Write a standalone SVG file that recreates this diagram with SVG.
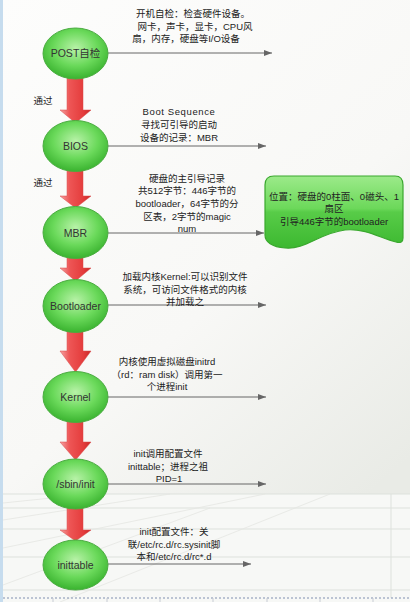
<svg xmlns="http://www.w3.org/2000/svg" width="410" height="602" viewBox="0 0 410 602">
<defs>
<linearGradient id="bg" x1="0" y1="0" x2="0.6" y2="1">
<stop offset="0" stop-color="#fdfdfc"/>
<stop offset="0.6" stop-color="#f8f8f6"/>
<stop offset="1" stop-color="#e9ebe6"/>
</linearGradient>
<radialGradient id="ell" cx="0.5" cy="0.4" r="0.62">
<stop offset="0" stop-color="#b8f2a8"/>
<stop offset="0.55" stop-color="#6ad95a"/>
<stop offset="1" stop-color="#36b02c"/>
</radialGradient>
<linearGradient id="red" x1="0" y1="0" x2="1" y2="0">
<stop offset="0" stop-color="#f4a4a4"/>
<stop offset="0.3" stop-color="#ee5656"/>
<stop offset="0.75" stop-color="#e43c3c"/>
<stop offset="1" stop-color="#c82828"/>
</linearGradient>
<linearGradient id="doc" x1="0" y1="0" x2="0" y2="1">
<stop offset="0" stop-color="#9cea8a"/>
<stop offset="0.45" stop-color="#6cd85a"/>
<stop offset="0.5" stop-color="#58cc48"/>
<stop offset="1" stop-color="#3cb830"/>
</linearGradient>
<marker id="ah" viewBox="0 0 8 6" refX="8" refY="3" markerWidth="8" markerHeight="6" markerUnits="userSpaceOnUse" orient="auto">
<path d="M0,0 L8,3 L0,6 Z" fill="#666"/>
</marker>
<style>
.t{font-family:"Liberation Sans","Noto Sans CJK SC",sans-serif;font-size:9.5px;fill:#222;text-anchor:middle}
.n{font-family:"Liberation Sans","Noto Sans CJK SC",sans-serif;font-size:10.5px;fill:#333;text-anchor:middle}
.e{fill:url(#ell);stroke:#4aac40;stroke-width:1}
.c{stroke:#666;stroke-width:1;fill:none;marker-end:url(#ah)}
.r{fill:url(#red);stroke:#d84848;stroke-width:0.5}
.g{stroke:#dde1dc;stroke-width:1;fill:none}
.d{stroke:#e4e6e2;stroke-width:0.8;fill:none}
</style>
</defs>

<!-- background -->
<rect x="0" y="0" width="410" height="602" fill="url(#bg)"/>
<rect x="0" y="494" width="410" height="108" fill="#f7f8f6"/>
<g id="grid">
<path class="g" d="M3,494 H410 M3,508 H410 M3,529 H410 M3,557 H410 M3,590 H410 M391,494 V598"/>
<path class="d" d="M3,503 L90,494 M3,520 L170,494 M3,548 L265,494 M60,602 L330,494 M3,585 L210,508"/>
<path d="M3,598 H410" stroke="#8090b0" stroke-width="1" stroke-dasharray="2,2"/>
<path d="M53,598 V602 M107,598 V602 M160,598 V602 M213,598 V602 M267,598 V602 M320,598 V602 M373,598 V602" stroke="#c8ccd4" stroke-width="1"/>
</g>
<rect x="0" y="0" width="3" height="602" fill="#c6dcee"/>

<!-- red flow arrows -->
<g id="flow">
<path class="r" d="M67,76 H83 V110 H91 L75.5,123 L60,110 H67 Z"/>
<path class="r" d="M67,169 H83 V196 H91 L75.5,208 L60,196 H67 Z"/>
<path class="r" d="M67,256 H83 V268 H91 L75.5,281 L60,268 H67 Z"/>
<path class="r" d="M67,331 H83 V351 H91 L75.5,372 L60,351 H67 Z"/>
<path class="r" d="M67,420 H83 V442 H91 L75.5,460 L60,442 H67 Z"/>
<path class="r" d="M67,506 H83 V530 H91 L75.5,541 L60,530 H67 Z"/>
</g>

<!-- connectors -->
<g id="connectors">
<line class="c" x1="108" y1="53" x2="272" y2="53"/>
<line class="c" x1="108" y1="146" x2="266" y2="146"/>
<line class="c" x1="108" y1="233" x2="264" y2="233"/>
<line class="c" x1="108" y1="305" x2="266" y2="305"/>
<line class="c" x1="108" y1="397" x2="266" y2="397"/>
<line class="c" x1="108" y1="484" x2="266" y2="484"/>
<line class="c" x1="108" y1="564" x2="251" y2="564"/>
</g>

<!-- labels -->
<g id="labels">
<text class="t" x="43" y="104">通过</text>
<text class="t" x="43" y="186">通过</text>
<text class="t" x="193" y="17">开机自检：检查硬件设备。</text>
<text class="t" x="195" y="30">网卡，声卡，显卡，CPU风</text>
<text class="t" x="186" y="42">扇，内存，硬盘等I/O设备</text>
<text class="t" x="179" y="115" letter-spacing="0.6">Boot  Sequence</text>
<text class="t" x="179" y="128">寻找可引导的启动</text>
<text class="t" x="179" y="141">设备的记录：MBR</text>
<text class="t" x="187" y="182">硬盘的主引导记录</text>
<text class="t" x="187" y="194">共512字节：446字节的</text>
<text class="t" x="187" y="207">bootloader，64字节的分</text>
<text class="t" x="187" y="220">区表，2字节的magic</text>
<text class="t" x="187" y="232">num</text>
<text class="t" x="185" y="280">加载内核Kernel:可以识别文件</text>
<text class="t" x="185" y="293">系统，可访问文件格式的内核</text>
<text class="t" x="185" y="305">并加载之</text>
<text class="t" x="167" y="365">内核使用虚拟磁盘initrd</text>
<text class="t" x="167" y="378">（rd：ram disk）调用第一</text>
<text class="t" x="167" y="390">个进程init</text>
<text class="t" x="168" y="457">init调用配置文件</text>
<text class="t" x="168" y="470">inittable；进程之祖</text>
<text class="t" x="169" y="482">PID=1</text>
<text class="t" x="174" y="535">init配置文件：关</text>
<text class="t" x="174" y="548">联/etc/rc.d/rc.sysinit脚</text>
<text class="t" x="174" y="560">本和/etc/rc.d/rc*.d</text>
</g>

<!-- nodes -->
<g id="node-post">
<ellipse class="e" cx="75.5" cy="53.5" rx="32.5" ry="25.5"/>
<text class="n" x="75.5" y="57">POST自检</text>
</g>
<g id="node-bios">
<ellipse class="e" cx="75.5" cy="146" rx="32.5" ry="25.5"/>
<text class="n" x="75.5" y="150">BIOS</text>
</g>
<g id="node-mbr">
<ellipse class="e" cx="75.5" cy="232.5" rx="32.5" ry="26"/>
<text class="n" x="75.5" y="236.5">MBR</text>
</g>
<g id="node-bootloader">
<ellipse class="e" cx="75.5" cy="306" rx="32.5" ry="26.5"/>
<text class="n" x="75.5" y="310">Bootloader</text>
</g>
<g id="node-kernel">
<ellipse class="e" cx="75.5" cy="397" rx="32.5" ry="25.5"/>
<text class="n" x="75.5" y="401">Kernel</text>
</g>
<g id="node-sbininit">
<ellipse class="e" cx="75.5" cy="484" rx="32.5" ry="25"/>
<text class="n" x="75.5" y="488">/sbin/init</text>
</g>
<g id="node-inittable">
<ellipse class="e" cx="75.5" cy="565" rx="32.5" ry="25"/>
<text class="n" x="75.5" y="569">inittable</text>
</g>
<g id="node-mbr-note">
<path d="M265,185 Q265,176 274,176 L395,176 Q403,176 403,185 L403,238 Q403,244 396,242 C380,238 365,228 345,230 C320,233 305,250 285,248 C272,247 265,242 265,235 Z" fill="url(#doc)" stroke="#3aa82e" stroke-width="1.2"/>
<text class="t" x="334" y="200">位置：硬盘的0柱面、0磁头、1</text>
<text class="t" x="334" y="212">扇区</text>
<text class="t" x="334" y="225">引导446字节的bootloader</text>
</g>
</svg>
